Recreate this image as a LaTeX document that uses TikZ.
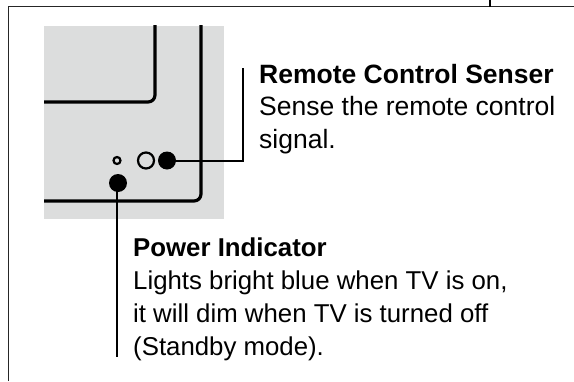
\documentclass[tikz,border=0pt]{standalone}
\usepackage{fontspec}
\setmainfont{Liberation Sans}
\definecolor{panelgrey}{HTML}{DCDDDD}
\begin{document}
\begin{tikzpicture}[x=1pt,y=-1pt,
  panel/.style={line width=3.2pt,black},
  frameline/.style={line width=1.3pt,black!85},
  leader/.style={line width=2pt,black},
  dotfill/.style={circle,fill=black,inner sep=0pt,minimum size=18pt},
  ring/.style={circle,draw=black,fill=none,inner sep=0pt},
  label/.style={anchor=base west,inner sep=0pt},
  upper/.style={label,font=\fontsize{26.5}{30}\selectfont},
  lower/.style={label,font=\fontsize{25.8}{30}\selectfont}]
\useasboundingbox (0,0) rectangle (574,381);
\fill[white] (0,0) rectangle (574,381);
% outer frame
\draw[frameline] (8.5,381) -- (8.5,6.5) -- (574,6.5);
\draw[line width=1.8pt] (490,0) -- (490,6.5);
% grey panel
\fill[panelgrey] (44,26) rectangle (224,219);
\draw[panel] (155,25) -- (155,95) arc[start angle=0,end angle=90,radius=7] -- (44,102);
\draw[panel] (201,25) -- (201,194) arc[start angle=0,end angle=90,radius=7] -- (44,201);
% LEDs
\node[ring,line width=2.2pt,minimum size=7pt] (pin) at (117,160.5) {};
\node[ring,line width=2.2pt,minimum size=16pt] (lens) at (146,160.5) {};
\node[dotfill] (sensor) at (167,160.5) {};
\node[dotfill] (power) at (118,183) {};
% leaders
\coordinate (sensorend) at (243,68);
\coordinate (powerend) at (117,357);
\draw[leader] (sensor.center) -- (243,160.5) -- (sensorend);
\draw[leader] (117,183) -- (powerend);
% text
\node[upper] (t1) at (259,83) {\textbf{Remote Control Senser}};
\node[upper] (t2) at (259,115) {Sense the remote control};
\node[upper] (t3) at (259,148) {signal.};
\node[lower] (t4) at (133,256) {\textbf{Power Indicator}};
\node[lower] (t5) at (133,289) {Lights bright blue when TV is on,};
\node[lower] (t6) at (133,322) {it will dim when TV is turned off};
\node[lower] (t7) at (133,355) {(Standby mode).};
\end{tikzpicture}
\end{document}
